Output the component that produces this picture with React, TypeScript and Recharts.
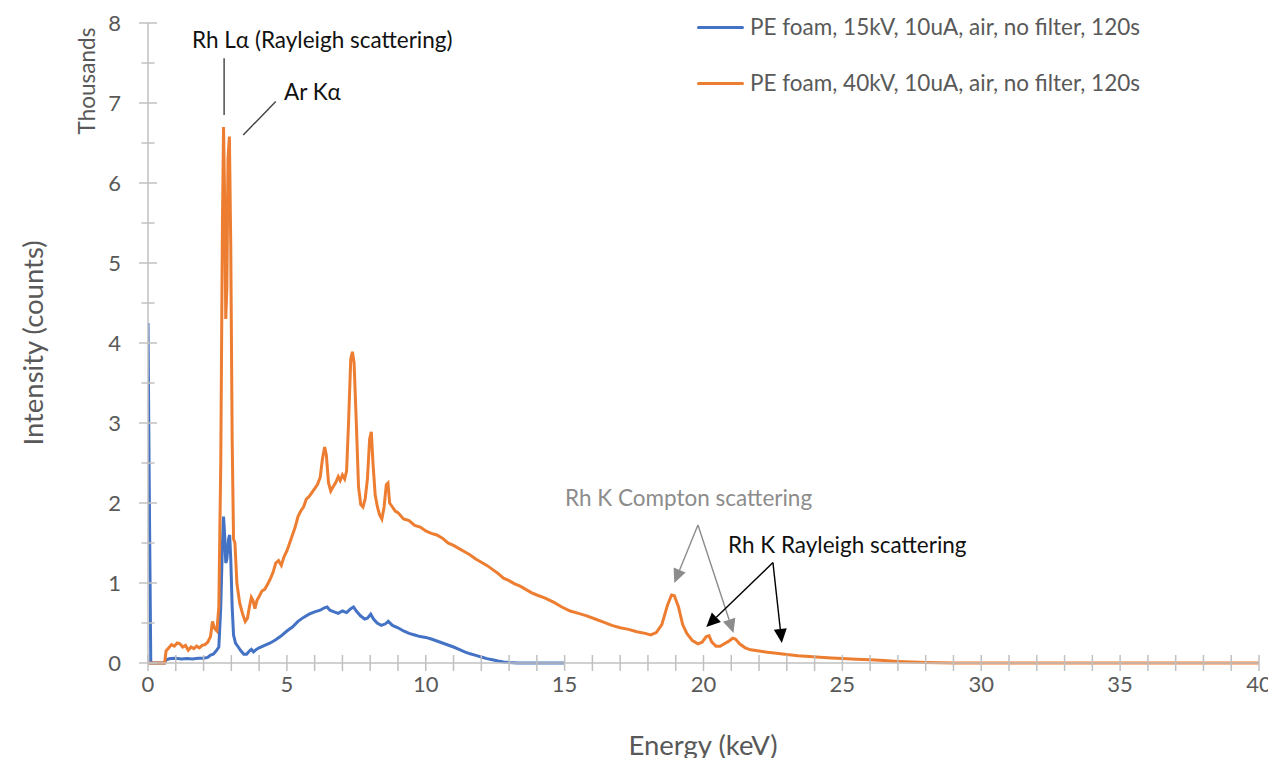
import React from 'react';
import { LineChart, Line, XAxis, YAxis, ReferenceLine, Legend } from 'recharts';

// ---------- data ----------
const energy15: number[] = [
  0, 0.05, 0.1, 0.6, 0.65, 0.8, 1.0, 1.2, 1.4, 1.6, 1.8, 2.0, 2.15, 2.25, 2.35, 2.45, 2.55, 2.62, 2.68, 2.72,
  2.76, 2.8, 2.84, 2.9, 2.94, 2.98, 3.03, 3.08, 3.15, 3.25, 3.35, 3.45, 3.55, 3.65, 3.72, 3.8, 3.9, 4.0, 4.2, 4.4,
  4.6, 4.8, 5.0, 5.2, 5.4, 5.6, 5.8, 6.0, 6.2, 6.35, 6.45, 6.55, 6.7, 6.85, 7.0, 7.15, 7.3, 7.4, 7.5, 7.65,
  7.8, 7.9, 8.02, 8.12, 8.25, 8.4, 8.55, 8.65, 8.8, 9.0, 9.2, 9.4, 9.6, 9.8, 10.0, 10.2, 10.4, 10.6, 10.8, 11.0,
  11.2, 11.4, 11.6, 11.8, 12.0, 12.2, 12.4, 12.6, 12.8, 13.0, 13.3, 15.0,
];
const counts15: number[] = [
  4250, 2000, 0, 0, 40, 55, 60, 50, 55, 50, 60, 60, 70, 100, 110, 150, 200, 700, 1500, 1830,
  1600, 1250, 1300, 1550, 1600, 1300, 700, 350, 250, 200, 150, 110, 110, 150, 170, 140, 170, 190, 220, 250,
  290, 340, 400, 450, 520, 570, 610, 640, 660, 690, 700, 660, 640, 620, 650, 630, 680, 700, 650, 590,
  550, 560, 610, 550, 500, 470, 490, 520, 470, 440, 400, 370, 350, 330, 320, 300, 275, 250, 225, 200,
  170, 140, 115, 95, 75, 55, 40, 25, 12, 5, 0, 0,
];

const energy40: number[] = [
  0, 0.6, 0.65, 0.75, 0.85, 0.95, 1.05, 1.15, 1.25, 1.35, 1.45, 1.55, 1.65, 1.75, 1.85, 1.95, 2.05, 2.15, 2.25, 2.32,
  2.4, 2.48, 2.55, 2.62, 2.68, 2.72, 2.76, 2.8, 2.84, 2.88, 2.93, 2.98, 3.03, 3.08, 3.13, 3.2, 3.3, 3.4, 3.5, 3.58,
  3.65, 3.72, 3.78, 3.85, 3.92, 4.0, 4.1, 4.2, 4.3, 4.4, 4.5, 4.6, 4.7, 4.8, 4.9, 5.0, 5.1, 5.2, 5.3, 5.4,
  5.5, 5.6, 5.7, 5.8, 5.9, 6.0, 6.1, 6.2, 6.28, 6.36, 6.42, 6.5, 6.58, 6.66, 6.75, 6.85, 6.92, 7.0, 7.08, 7.15,
  7.22, 7.3, 7.36, 7.42, 7.5, 7.58, 7.66, 7.74, 7.82, 7.9, 7.98, 8.04, 8.1, 8.18, 8.26, 8.34, 8.42, 8.5, 8.58, 8.64,
  8.7, 8.8, 8.9, 9.0, 9.2, 9.4, 9.6, 9.8, 10.0, 10.2, 10.4, 10.6, 10.8, 11.0, 11.2, 11.4, 11.6, 11.8, 12.0, 12.2,
  12.4, 12.6, 12.8, 13.0, 13.2, 13.4, 13.6, 13.8, 14.0, 14.3, 14.6, 14.9, 15.2, 15.5, 15.8, 16.1, 16.4, 16.7, 17.0, 17.3,
  17.6, 17.9, 18.1, 18.3, 18.5, 18.7, 18.85, 18.95, 19.1, 19.25, 19.4, 19.6, 19.8, 19.95, 20.1, 20.2, 20.3, 20.45, 20.6, 20.75,
  20.9, 21.05, 21.15, 21.3, 21.5, 21.7, 22.0, 22.3, 22.7, 23.0, 23.4, 23.8, 24.2, 24.6, 25.0, 25.5, 26.0, 26.5, 27.0, 27.5,
  28.0, 28.5, 29.0, 30.0, 35.0, 40.0,
];
const counts40: number[] = [
  0, 0, 150, 190, 230, 210, 250, 240, 200, 220, 160, 200, 180, 210, 190, 220, 230, 260, 330, 520,
  430, 400, 700, 2500, 5500, 6700, 5800, 4300, 4700, 6300, 6580, 5200, 2800, 1550, 1500, 1000, 750, 620, 520, 560,
  700, 820, 780, 680, 780, 830, 900, 920, 980, 1050, 1130, 1250, 1280, 1220, 1330, 1400, 1500, 1600, 1700, 1830,
  1900, 1950, 2050, 2080, 2130, 2180, 2230, 2320, 2550, 2700, 2600, 2250, 2150, 2200, 2250, 2330, 2280, 2350, 2300, 2400,
  3000, 3800, 3890, 3750, 3000, 2200, 1980, 1950, 2050, 2300, 2800, 2890, 2500, 2100, 1950, 1850, 1800, 1950, 2230, 2250,
  2000, 1950, 1900, 1880, 1800, 1780, 1720, 1700, 1650, 1620, 1600, 1560, 1500, 1470, 1430, 1390, 1350, 1300, 1260, 1220,
  1170, 1120, 1060, 1030, 990, 960, 920, 880, 850, 810, 760, 700, 650, 620, 590, 550, 510, 470, 440, 420,
  390, 370, 350, 380, 480, 720, 850, 840, 700, 480, 370, 280, 240, 260, 330, 340, 260, 210, 210, 240,
  270, 310, 300, 240, 190, 165, 150, 135, 120, 105, 90, 80, 72, 62, 55, 48, 40, 30, 20, 12,
  6, 3, 1, 0, 0, 0,
];

const xTicks: number[] = [0, 1, 2, 3, 4, 5, 6, 7, 8, 9, 10, 11, 12, 13, 14, 15, 16, 17, 18, 19, 20,
  21, 22, 23, 24, 25, 26, 27, 28, 29, 30, 31, 32, 33, 34, 35, 36, 37, 38, 39, 40];
const yTicks: number[] = [0, 500, 1000, 1500, 2000, 2500, 3000, 3500, 4000, 4500, 5000, 5500, 6000, 6500, 7000, 7500, 8000];

const seriesNames: string[] = [
  'PE foam, 15kV, 10uA, air, no filter, 120s',
  'PE foam, 40kV, 10uA, air, no filter, 120s',
];
const seriesColors: string[] = ['#4472C4', '#ED7D31'];

const data15 = energy15.map((e, i) => ({ e, v: counts15[i] }));
const data40 = energy40.map((e, i) => ({ e, v: counts40[i] }));

// ---------- style ----------
const FONT = 'Lato, "Open Sans", sans-serif';
const AXIS = '#c0c0c0';
const TXT = '#595959';
const X_TS = 8;
const X_TM = 5;
const Y_TS = 9;
const Y_TM = 18;

const XTick = (props: any) => {
  const { x, y, payload } = props;
  const ay = y - X_TS - X_TM;
  const v = payload.value;
  return (
    <g>
      <line x1={x} x2={x} y1={ay - 8} y2={ay + 8} stroke={AXIS} strokeWidth={1.5} />
      {v % 5 === 0 && (
        <text x={x} y={y} dy="0.71em" textAnchor="middle" fill={TXT} fontSize={22} fontFamily={FONT}>
          {v}
        </text>
      )}
    </g>
  );
};

const YTick = (props: any) => {
  const { x, y, payload } = props;
  const ax = x + Y_TS + Y_TM;
  const v = payload.value;
  const major = v % 1000 === 0;
  const half = major ? 9 : 6.5;
  return (
    <g>
      <line x1={ax - half} x2={ax + half} y1={y} y2={y} stroke={AXIS} strokeWidth={1.5} />
      {major && (
        <text x={x} y={y} dy="0.355em" textAnchor="end" fill={TXT} fontSize={22} fontFamily={FONT}>
          {v / 1000}
        </text>
      )}
    </g>
  );
};

const arrow = (color: string, head: boolean) => (props: any) => {
  const { x1, y1, x2, y2 } = props;
  const dx = x2 - x1;
  const dy = y2 - y1;
  const len = Math.hypot(dx, dy) || 1;
  const ux = dx / len;
  const uy = dy / len;
  const hl = head ? 14 : 0;
  const hw = 6.5;
  const bx = x2 - ux * hl;
  const by = y2 - uy * hl;
  const px = -uy;
  const py = ux;
  return (
    <g>
      <line x1={x1} y1={y1} x2={bx} y2={by} stroke={color} strokeWidth={1.4} />
      {head && (
        <polygon
          points={`${x2},${y2} ${bx + px * hw},${by + py * hw} ${bx - px * hw},${by - py * hw}`}
          fill={color}
        />
      )}
    </g>
  );
};

const LegendContent = () => (
  <div style={{ fontFamily: FONT, fontSize: 22.5, color: TXT }}>
    {seriesNames.map((n, i) => (
      <div key={n} style={{ display: 'flex', alignItems: 'center', height: 56 }}>
        <div style={{ width: 47, height: 3, background: seriesColors[i], borderRadius: 2, marginRight: 6 }} />
        <span style={{ whiteSpace: 'nowrap', lineHeight: 1 }}>{n}</span>
      </div>
    ))}
  </div>
);

const abs = (left: number, top: number, extra: React.CSSProperties = {}): React.CSSProperties => ({
  position: 'absolute',
  left,
  top,
  whiteSpace: 'nowrap',
  lineHeight: 1,
  fontFamily: FONT,
  transform: 'translateY(-50%)',
  ...extra,
});

export default function App() {
  return (
    <div style={{ position: 'relative', width: 1268, height: 750, fontFamily: FONT }}>
      <style>{'html { overflow: hidden; } .recharts-surface { overflow: visible; }'}</style>
      <LineChart width={1268} height={750} margin={{ top: 15, right: 17, bottom: 0, left: 0 }}>
        <XAxis
          dataKey="e"
          type="number"
          domain={[0, 40]}
          ticks={xTicks}
          interval={0}
          allowDataOverflow
          height={95}
          tickSize={X_TS}
          tickMargin={X_TM}
          tickLine={false}
          tick={<XTick />}
          axisLine={{ stroke: AXIS, strokeWidth: 1.5 }}
        />
        <YAxis
          type="number"
          domain={[0, 8000]}
          ticks={yTicks}
          interval={0}
          width={140}
          tickSize={Y_TS}
          tickMargin={Y_TM}
          tickLine={false}
          tick={<YTick />}
          axisLine={{ stroke: AXIS, strokeWidth: 1.5 }}
        />
        <Legend
          layout="vertical"
          align="center"
          verticalAlign="middle"
          wrapperStyle={{ top: -9, left: 689, width: 560 }}
          content={<LegendContent />}
        />
        <Line
          data={data15}
          dataKey="v"
          name={seriesNames[0]}
          stroke={seriesColors[0]}
          strokeWidth={3}
          dot={false}
          activeDot={false}
          isAnimationActive={false}
          type="linear"
        />
        <Line
          data={data40}
          dataKey="v"
          name={seriesNames[1]}
          stroke={seriesColors[1]}
          strokeWidth={3}
          dot={false}
          activeDot={false}
          isAnimationActive={false}
          type="linear"
        />
        <ReferenceLine segment={[{ x: 2.74, y: 7560 }, { x: 2.74, y: 6850 }]} shape={arrow('#404040', false)} />
        <ReferenceLine segment={[{ x: 4.6, y: 7020 }, { x: 3.43, y: 6600 }]} shape={arrow('#404040', false)} />
        <ReferenceLine segment={[{ x: 19.8, y: 1725 }, { x: 18.95, y: 1000 }]} shape={arrow('#8c8c8c', true)} />
        <ReferenceLine segment={[{ x: 19.8, y: 1725 }, { x: 21.08, y: 375 }]} shape={arrow('#8c8c8c', true)} />
        <ReferenceLine segment={[{ x: 22.5, y: 1255 }, { x: 20.1, y: 450 }]} shape={arrow('#000000', true)} />
        <ReferenceLine segment={[{ x: 22.5, y: 1255 }, { x: 22.82, y: 250 }]} shape={arrow('#000000', true)} />
      </LineChart>

      <div style={{ ...abs(25, 335), fontSize: 27.5, color: TXT, transform: 'translate(-50%, -50%) rotate(-90deg)' }}>
        Intensity (counts)
      </div>
      <div style={{ ...abs(79, 73), fontSize: 22.5, color: TXT, transform: 'translate(-50%, -50%) rotate(-90deg)' }}>
        Thousands
      </div>
      <div style={{ ...abs(695, 737), fontSize: 27.5, color: TXT, transform: 'translate(-50%, -50%)' }}>
        Energy (keV)
      </div>
      <div style={{ ...abs(184, 32), fontSize: 22.5, color: '#111' }}>Rh Lα (Rayleigh scattering)</div>
      <div style={{ ...abs(276, 84), fontSize: 22.5, color: '#111' }}>Ar Kα</div>
      <div style={{ ...abs(557, 490), fontSize: 22.5, color: '#8c8c8c' }}>Rh K Compton scattering</div>
      <div style={{ ...abs(720, 537), fontSize: 22.5, color: '#111' }}>Rh K Rayleigh scattering</div>
    </div>
  );
}
